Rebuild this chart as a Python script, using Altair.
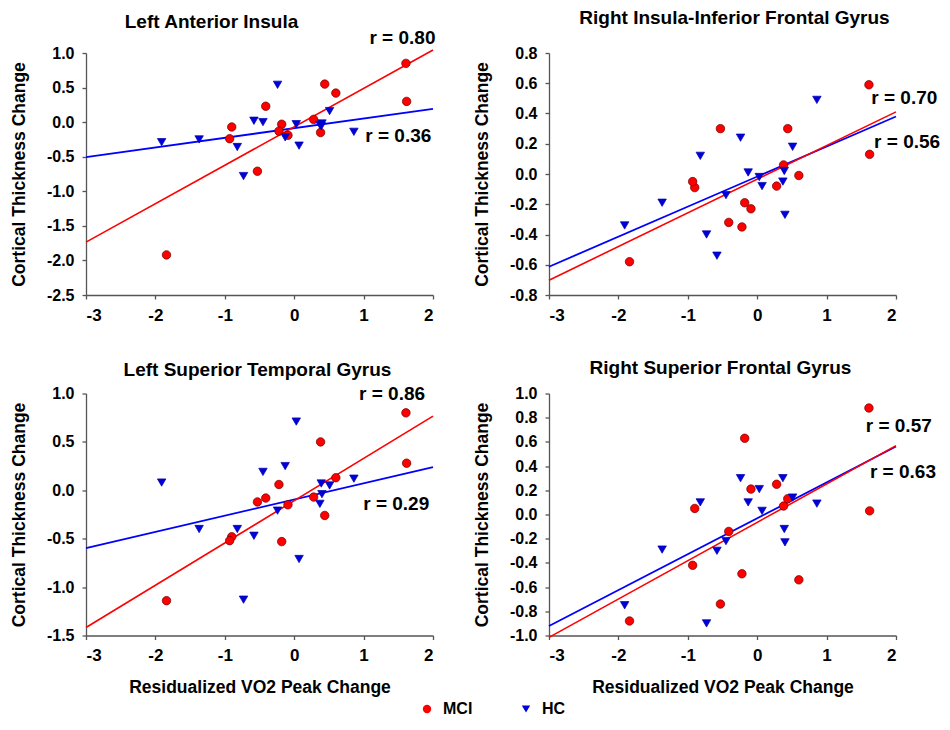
import altair as alt
import pandas as pd

# ---------------- data ----------------
groups = ["MCI", "HC"]
colors = ["#ff0000", "#0000d8"]
shapes = ["circle", "triangle-down"]

# residualized VO2 peak change (same subjects in all panels)
mci_vo2 = [1.61, 1.62, 0.44, 0.60, 0.28, 0.38, -0.18, -0.22, -0.09, -0.41, -0.90, -0.93, -0.53, -1.84]
hc_vo2 = [-1.91, -1.37, -0.82, -0.73, -0.58, -0.45, -0.24, -0.13, 0.03, 0.07, 0.37, 0.39, 0.40, 0.51, 0.86]

# cortical thickness change per region
mci_lai = [0.85, 0.30, 0.55, 0.42, 0.04, -0.15, -0.03, -0.13, -0.19, 0.23, -0.07, -0.24, -0.71, -1.92]
hc_lai = [-0.29, -0.25, -0.36, -0.78, 0.02, 0.00, 0.54, -0.22, -0.03, -0.34, -0.04, -0.06, -0.02, 0.16, -0.14]

mci_rifg = [0.59, 0.13, 0.30, -0.01, -0.08, 0.06, -0.19, -0.35, -0.23, -0.32, -0.09, -0.05, 0.30, -0.58]
hc_rifg = [-0.34, -0.19, 0.12, -0.40, -0.54, -0.14, 0.24, 0.01, -0.02, -0.08, -0.05, 0.02, -0.27, 0.18, 0.49]

mci_lstg = [0.80, 0.28, -0.26, 0.13, -0.07, 0.50, -0.53, 0.06, -0.15, -0.08, -0.48, -0.52, -0.12, -1.14]
hc_lstg = [0.08, -0.40, -0.40, -1.13, -0.47, 0.19, -0.21, 0.25, 0.71, -0.71, -0.14, 0.07, -0.04, 0.05, 0.12]

mci_rsfg = [0.88, 0.03, 0.13, -0.54, 0.25, 0.07, 0.63, -0.49, 0.21, -0.14, 0.05, -0.42, -0.74, -0.88]
hc_rsfg = [-0.75, -0.29, 0.10, -0.90, -0.30, -0.22, 0.30, 0.10, 0.21, 0.03, 0.30, -0.12, -0.23, 0.14, 0.09]

titles = ["Left Anterior Insula", "Right Insula-Inferior Frontal Gyrus",
          "Left Superior Temporal Gyrus", "Right Superior Frontal Gyrus"]
r_texts = [["r = 0.80", "r = 0.36"], ["r = 0.70", "r = 0.56"],
           ["r = 0.86", "r = 0.29"], ["r = 0.57", "r = 0.63"]]
# annotation anchor points (data units)
r_x = [[1.56, 1.50], [2.12, 2.16], [1.41, 1.47], [2.04, 2.10]]
r_y = [[1.21, -0.20], [0.50, 0.21], [1.00, -0.14], [0.73, 0.35]]

y_domains = [[-2.5, 1.0], [-0.8, 0.8], [-1.5, 1.0], [-1.0, 1.0]]
y_ticks = [[-2.5, -2.0, -1.5, -1.0, -0.5, 0.0, 0.5, 1.0],
           [-0.8, -0.6, -0.4, -0.2, 0.0, 0.2, 0.4, 0.6, 0.8],
           [-1.5, -1.0, -0.5, 0.0, 0.5, 1.0],
           [-1.0, -0.8, -0.6, -0.4, -0.2, 0.0, 0.2, 0.4, 0.6, 0.8, 1.0]]
x_ticks = [-3, -2, -1, 0, 1, 2]

W, H = 347, 242
FONT = "Liberation Sans"

color_scale = alt.Scale(domain=groups, range=colors)
shape_scale = alt.Scale(domain=groups, range=shapes)


def panel(i, mci_y, hc_y, show_xtitle, title_dx, title_offset):
    df = pd.DataFrame({
        "vo2": mci_vo2 + hc_vo2,
        "thick": mci_y + hc_y,
        "group": ["MCI"] * len(mci_vo2) + ["HC"] * len(hc_vo2),
    })
    lab = pd.DataFrame({"vo2": r_x[i], "thick": r_y[i], "txt": r_texts[i]})

    xenc = alt.X("vo2:Q", scale=alt.Scale(domain=[-3, 2], nice=False, zero=False),
                 axis=alt.Axis(values=x_ticks, format="d", labelFontSize=17, labelOverlap=False,
                               titlePadding=14.5,
                               title="Residualized VO2 Peak Change" if show_xtitle else None))
    yenc = alt.Y("thick:Q", scale=alt.Scale(domain=y_domains[i], nice=False, zero=False),
                 axis=alt.Axis(values=y_ticks[i], format=".1f", labelOverlap=False,
                               titlePadding=18, title="Cortical Thickness Change"))

    base = alt.Chart(df)
    line_hc = base.transform_filter("datum.group == 'HC'").transform_regression(
        "vo2", "thick", extent=[-3, 2]).mark_line(color="#0000ff", strokeWidth=1.8).encode(x=xenc, y=yenc)
    line_mci = base.transform_filter("datum.group == 'MCI'").transform_regression(
        "vo2", "thick", extent=[-3, 2]).mark_line(color="#ff0000", strokeWidth=1.6).encode(x=xenc, y=yenc)

    pts = base.mark_point(filled=True, opacity=1, size=72, strokeWidth=0.7).encode(
        x=xenc, y=yenc,
        color=alt.Color("group:N", scale=color_scale,
                        legend=alt.Legend(title=None, orient="none", direction="horizontal",
                                          legendX=333, legendY=648, labelFontSize=16,
                                          labelFontWeight="bold", symbolSize=70,
                                          symbolStrokeWidth=0,
                                          columnPadding=45, labelOffset=8)),
        shape=alt.Shape("group:N", scale=shape_scale),
        stroke=alt.condition("datum.group == 'MCI'", alt.value("#6a0000"), alt.value("#0000b0")),
    )
    txt = alt.Chart(lab).mark_text(fontSize=19, fontWeight="bold", font=FONT, color="black").encode(
        x=xenc, y=yenc, text="txt:N")

    return alt.layer(line_hc, line_mci, pts, txt).properties(
        width=W, height=H,
        title=alt.TitleParams(titles[i], fontSize=19, fontWeight="bold", font=FONT,
                              color="black", dx=title_dx, offset=title_offset),
    )


p1 = panel(0, mci_lai, hc_lai, False, -48, -2.5)
p2 = panel(1, mci_rifg, hc_rifg, False, 12, 17.5)
p3 = panel(2, mci_lstg, hc_lstg, True, -2, 5)
p4 = panel(3, mci_rsfg, hc_rsfg, True, -2, 7.5)

chart = alt.vconcat(
    alt.hconcat(p1, p2, spacing=36),
    alt.hconcat(p3, p4, spacing=36),
    spacing=35.5,
).properties(padding={"left": 2, "top": 0, "right": 0, "bottom": 0}).configure(
    locale={"number": {"decimal": ".", "thousands": ",", "grouping": [3],
                       "currency": ["$", ""], "minus": "-"}},
).configure_view(stroke=None).configure_axis(
    labelFont=FONT, titleFont=FONT, labelFontWeight="bold", titleFontWeight="bold",
    labelFontSize=16, titleFontSize=17.5, labelColor="black", titleColor="black",
    domainColor="#555555", tickColor="#555555", domainWidth=1.3, tickWidth=1.3,
    tickSize=4, grid=False, labelPadding=8,
).configure_legend(labelFont=FONT)

chart.save("out.html", embed_options={"renderer": "svg", "actions": False})
